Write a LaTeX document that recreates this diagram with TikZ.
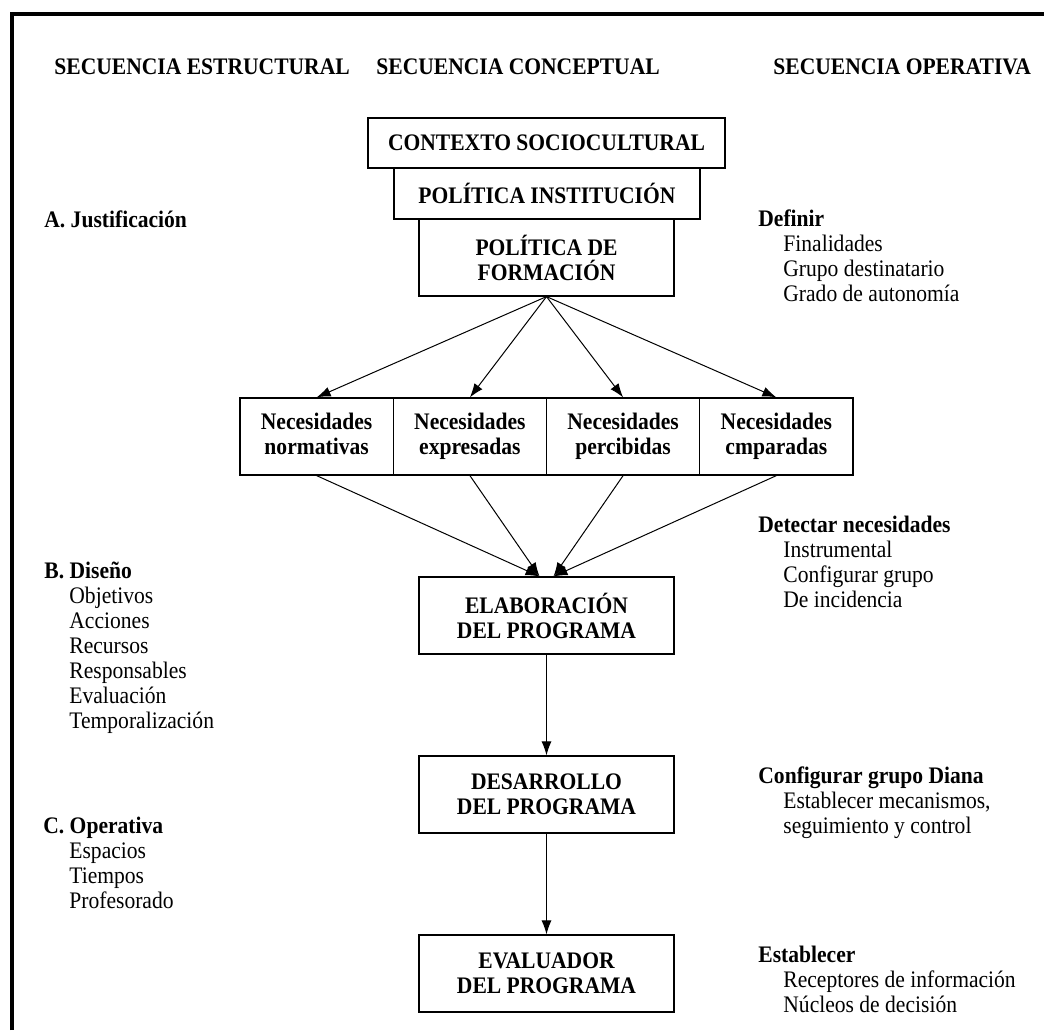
\documentclass[tikz,border=0pt]{standalone}
\usepackage{fontspec}
\setmainfont{Liberation Serif}[FakeStretch=0.91]
\usetikzlibrary{arrows.meta}

\newcommand\tam{\fontsize{11.85}{12.5}\selectfont}
\tikzset{
  caja/.style={draw, line width=0.6pt, font=\tam\bfseries, align=center, inner sep=0pt},
  flecha/.style={line width=0.5pt, -{Latex[length=7pt,width=5pt]}},
  titulo/.style={anchor=base west, inner sep=0pt, font=\tam\bfseries},
  texto/.style={anchor=base west, inner sep=0pt, font=\tam},
}

\begin{document}
\begin{tikzpicture}[x=0.5pt, y=-0.5pt]
\useasboundingbox (0,0) rectangle (1044,1030);
\draw[line width=2pt] (12,1030) -- (12,14) -- (1044,14);

\node[titulo] (sec1) at (54,74) {SECUENCIA ESTRUCTURAL};
\node[titulo] (sec2) at (376,74) {SECUENCIA CONCEPTUAL};
\node[titulo] (sec3) at (773,74) {SECUENCIA OPERATIVA};

\node[caja, minimum width=178.5pt, minimum height=25pt] (ctx) at (546.5,143) {CONTEXTO SOCIOCULTURAL};
\node[caja, minimum width=153pt, minimum height=25.5pt] (inst) at (547,193.5) {POLÍTICA INSTITUCIÓN};
\node[caja, minimum width=127.5pt, minimum height=38.5pt] (form) at (546.5,257.5) {POLÍTICA DE\\FORMACIÓN};

\foreach \n/\x/\t in {1/316.6/normativas, 2/469.9/expresadas, 3/623.1/percibidas, 4/776.4/cmparadas}
  \node[caja, minimum width=76.6pt, minimum height=38.5pt] (nec\n) at (\x,436.5) {Necesidades\\\t\vphantom{p}};

\node[caja, minimum width=127.5pt, minimum height=38.5pt] (elab) at (546.5,615.5) {ELABORACIÓN\\DEL PROGRAMA};
\node[caja, minimum width=127.5pt, minimum height=38.5pt] (desa) at (546.5,794.5) {DESARROLLO\\DEL PROGRAMA};
\node[caja, minimum width=127.5pt, minimum height=38.5pt] (eval) at (546.5,973.5) {EVALUADOR\\DEL PROGRAMA};

\foreach \n in {1,...,4}
  \draw[flecha] (form.south) -- (nec\n.north);
\foreach \n/\d in {1/-3.5pt, 2/-3.5pt, 3/3.5pt, 4/3.5pt}
  \draw[flecha] (nec\n.south) -- ([xshift=\d]elab.north);
\draw[flecha] (elab) -- (desa);
\draw[flecha] (desa) -- (eval);

\node[titulo] (jus) at (44,227) {A. Justificación};
\node[titulo] (dis) at (44,578) {B. Diseño};
\foreach \t [count=\i] in {Objetivos, Acciones, Recursos, Responsables, Evaluación, Temporalización}
  \node[texto] (dis\i) at (69,578+25*\i) {\t};
\node[titulo] (ope) at (43,833) {C. Operativa};
\foreach \t [count=\i] in {Espacios, Tiempos, Profesorado}
  \node[texto] (ope\i) at (69,833+25*\i) {\t};

\node[titulo] (def) at (758,226) {Definir};
\foreach \t [count=\i] in {Finalidades, Grupo destinatario, Grado de autonomía}
  \node[texto] (def\i) at (783,226+25*\i) {\t};
\node[titulo] (det) at (758,532) {Detectar necesidades};
\foreach \t [count=\i] in {Instrumental, Configurar grupo, De incidencia}
  \node[texto] (det\i) at (783,532+25*\i) {\t};
\node[titulo] (dia) at (758,783) {Configurar grupo Diana};
\foreach \t [count=\i] in {{Establecer mecanismos,}, seguimiento y control}
  \node[texto] (dia\i) at (783,783+25*\i) {\t};
\node[titulo] (est) at (758,962) {Establecer};
\foreach \t [count=\i] in {Receptores de información, Núcleos de decisión}
  \node[texto] (est\i) at (783,962+25*\i) {\t};
\end{tikzpicture}
\end{document}
